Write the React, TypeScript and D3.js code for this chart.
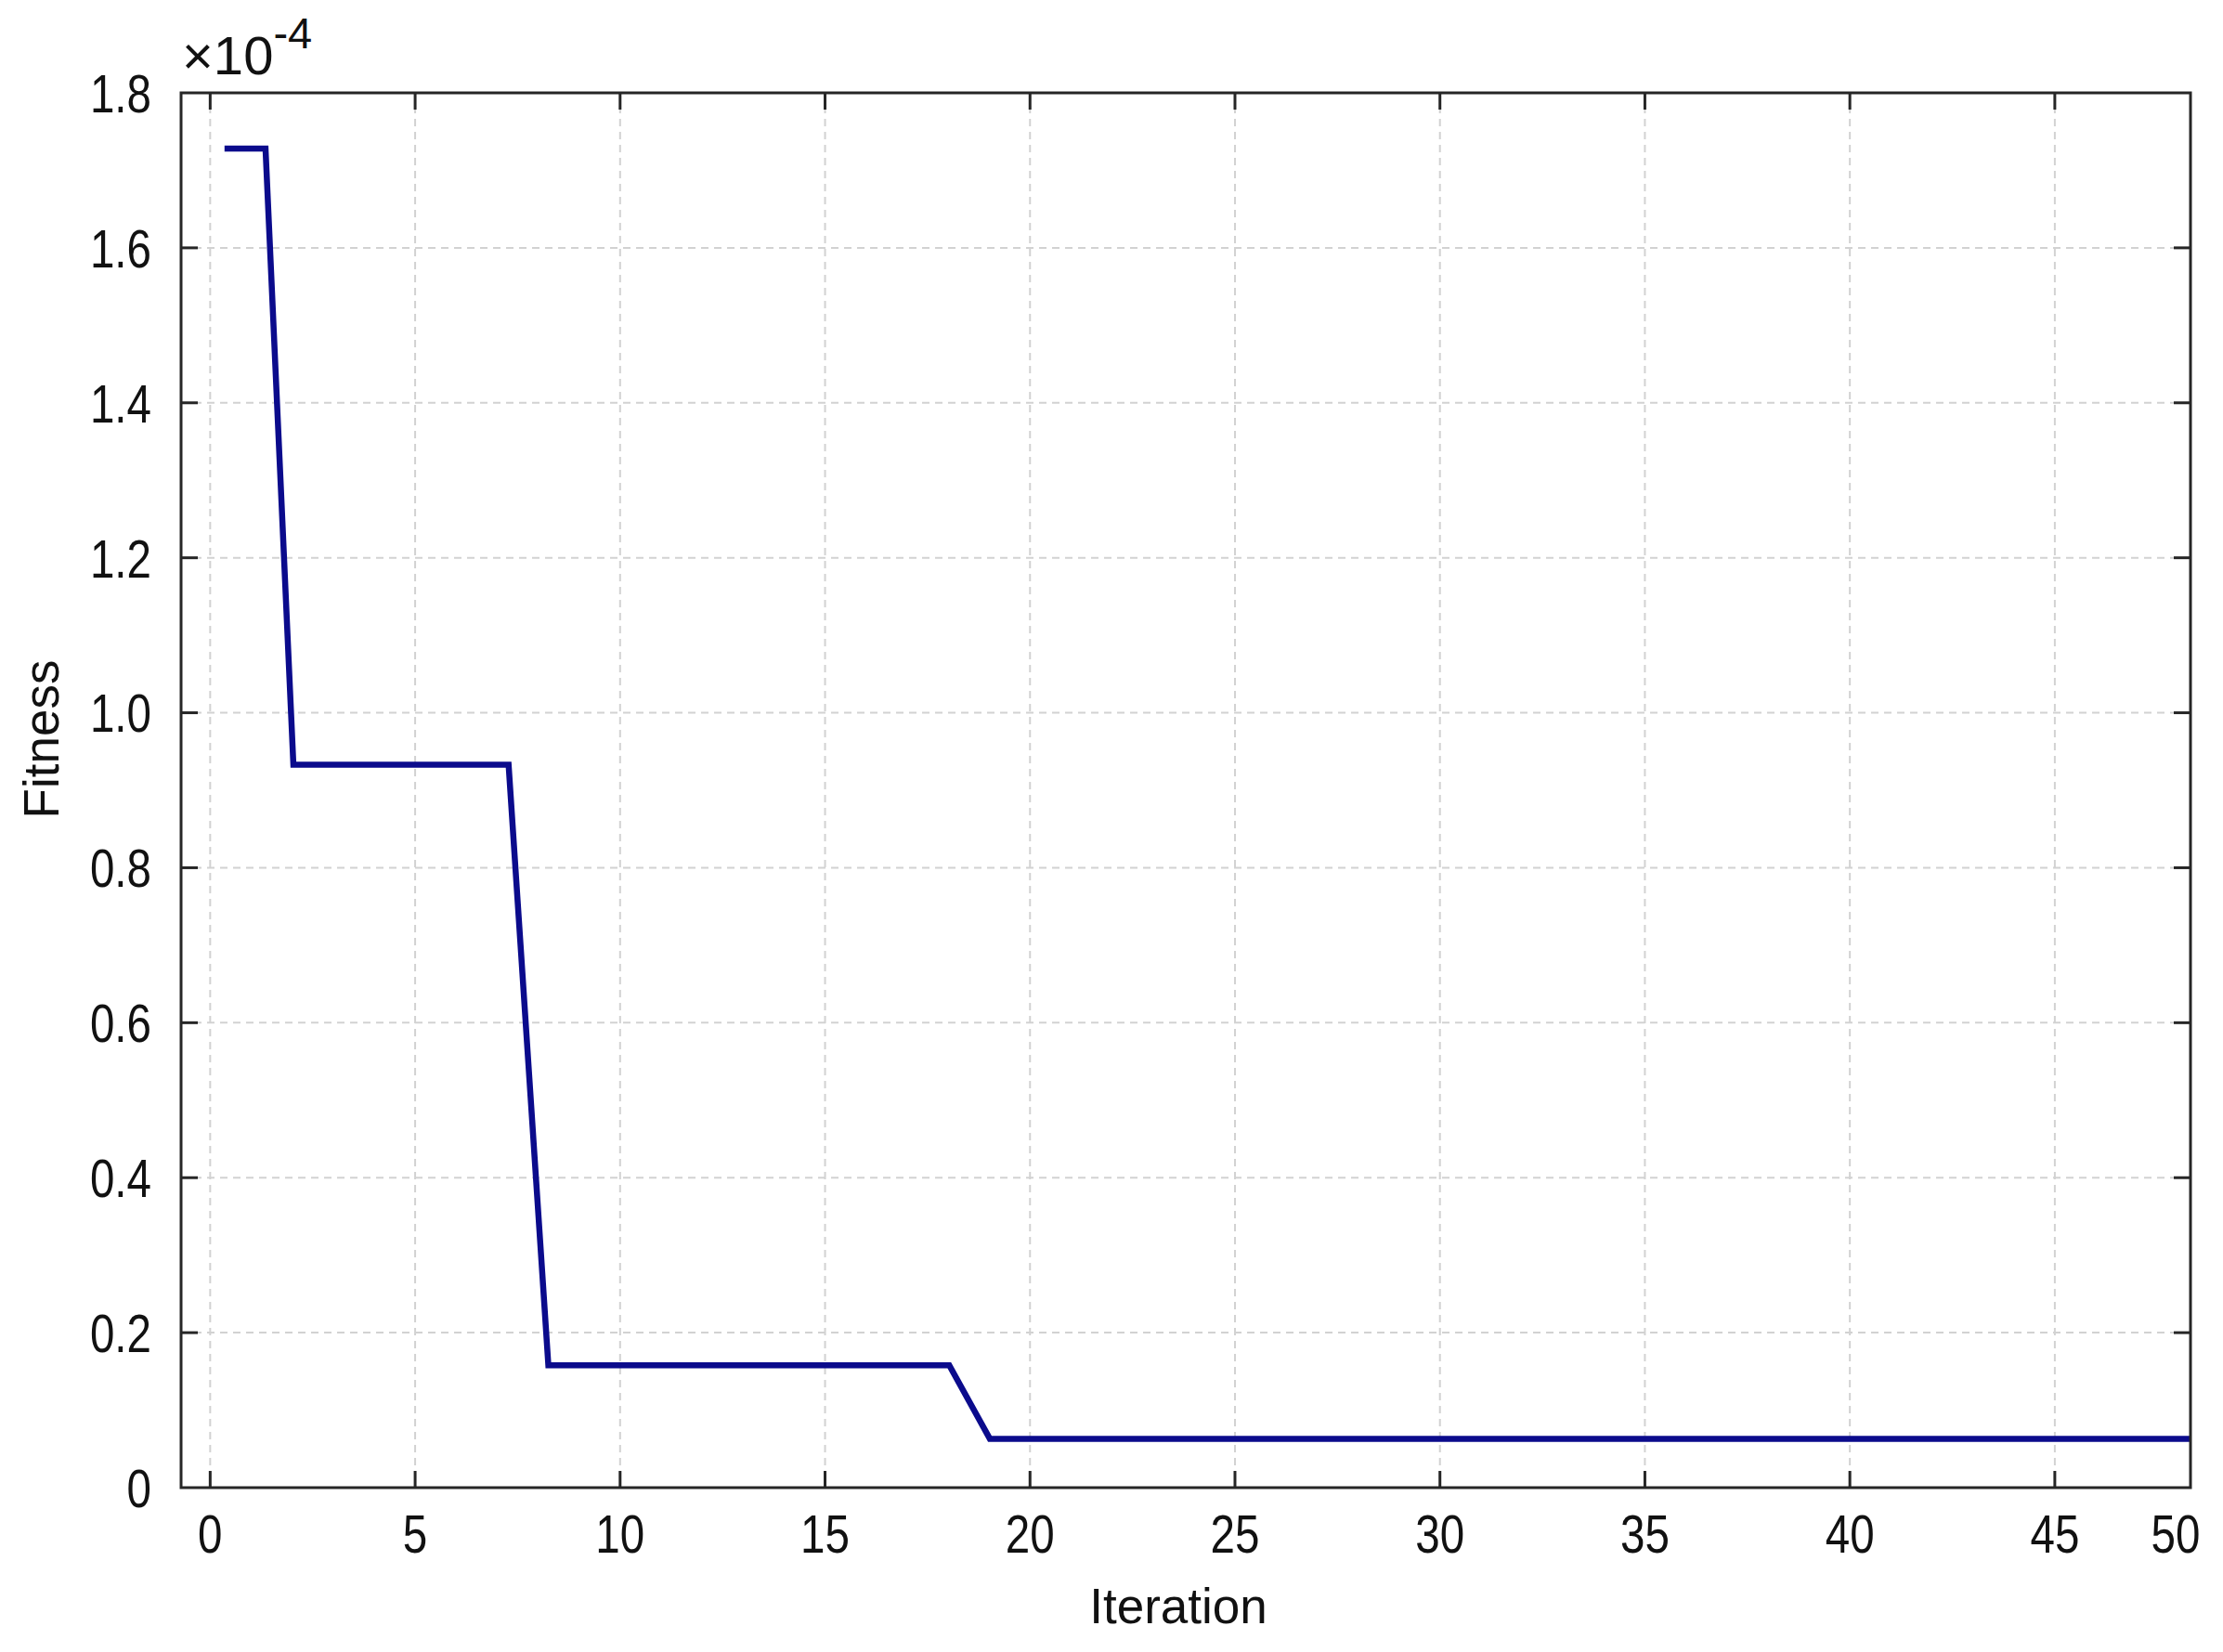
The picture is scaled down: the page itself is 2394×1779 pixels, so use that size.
import React from 'react';
import * as d3 from 'd3';

const WIDTH = 2394;
const HEIGHT = 1779;

// plot box in page pixels
const box = { left: 195, top: 100, right: 2359, bottom: 1602 };

// values
const ITERATIONS = [0.35, 1.35, 2.03, 7.28, 8.25, 18.03, 19.02, 48.31];
const FITNESS = [1.728e-4, 1.728e-4, 0.933e-4, 0.933e-4, 0.158e-4, 0.158e-4, 0.063e-4, 0.063e-4];

const X_DOMAIN = [-0.71, 48.31];
const X_TICKS = [0, 5, 10, 15, 20, 25, 30, 35, 40, 45];
const X_END_LABEL = '50';

const Y_DOMAIN = [0, 1.8e-4];
const Y_TICKS = [0, 0.2e-4, 0.4e-4, 0.6e-4, 0.8e-4, 1.0e-4, 1.2e-4, 1.4e-4, 1.6e-4, 1.8e-4];
const Y_TICK_LABELS = ['0', '0.2', '0.4', '0.6', '0.8', '1.0', '1.2', '1.4', '1.6', '1.8'];

const AXIS_COLOR = '#262626';
const GRID_COLOR = '#d2d2d2';
const LINE_COLOR = '#0b0b8c';
const FONT = '"Liberation Sans", Arial, sans-serif';
const NARROW = 0.82;
const TICK_LEN = 18;

export default function App() {
  const x = d3.scaleLinear().domain(X_DOMAIN).range([box.left, box.right]);
  const y = d3.scaleLinear().domain(Y_DOMAIN).range([box.bottom, box.top]);

  const line = d3
    .line<number>()
    .x((_d, i) => x(ITERATIONS[i]))
    .y((d) => y(d));

  const innerY = Y_TICKS.filter((t) => t > Y_DOMAIN[0] && t < Y_DOMAIN[1]);

  return (
    <svg
      width={WIDTH}
      height={HEIGHT}
      style={{ position: 'absolute', left: 0, top: 0, background: '#fff' }}
      fontFamily={FONT}
    >
      <rect x={0} y={0} width={WIDTH} height={HEIGHT} fill="#fff" />

      {/* grid */}
      <g stroke={GRID_COLOR} strokeWidth={2} strokeDasharray="8,6">
        {X_TICKS.map((t) => (
          <line key={'gx' + t} x1={x(t)} x2={x(t)} y1={box.top} y2={box.bottom} />
        ))}
        {innerY.map((t) => (
          <line key={'gy' + t} x1={box.left} x2={box.right} y1={y(t)} y2={y(t)} />
        ))}
      </g>

      {/* data */}
      <path
        d={line(FITNESS) || ''}
        fill="none"
        stroke={LINE_COLOR}
        strokeWidth={6.5}
        strokeLinejoin="miter"
      />

      {/* frame + ticks */}
      <g stroke={AXIS_COLOR} strokeWidth={3}>
        <rect
          x={box.left}
          y={box.top}
          width={box.right - box.left}
          height={box.bottom - box.top}
          fill="none"
        />
        {X_TICKS.map((t) => (
          <g key={'tx' + t}>
            <line x1={x(t)} x2={x(t)} y1={box.bottom} y2={box.bottom - TICK_LEN} />
            <line x1={x(t)} x2={x(t)} y1={box.top} y2={box.top + TICK_LEN} />
          </g>
        ))}
        {innerY.map((t) => (
          <g key={'ty' + t}>
            <line x1={box.left} x2={box.left + TICK_LEN} y1={y(t)} y2={y(t)} />
            <line x1={box.right} x2={box.right - TICK_LEN} y1={y(t)} y2={y(t)} />
          </g>
        ))}
      </g>

      {/* x tick labels */}
      <g fontSize={58} fill="#111" textAnchor="middle">
        {X_TICKS.map((t) => (
          <text key={'lx' + t} transform={`translate(${x(t)},1672) scale(${NARROW},1)`}>
            {t}
          </text>
        ))}
        <text transform={`translate(${x(X_DOMAIN[1]) - 16},1672) scale(${NARROW},1)`}>
          {X_END_LABEL}
        </text>
      </g>

      {/* y tick labels */}
      <g fontSize={58} fill="#111" textAnchor="end">
        {Y_TICKS.map((t, i) => (
          <text
            key={'ly' + i}
            transform={`translate(163,${y(t)}) scale(${NARROW},1)`}
            dy="0.36em"
          >
            {Y_TICK_LABELS[i]}
          </text>
        ))}
      </g>

      {/* exponent */}
      <text x={196} y={80} fontSize={58} fill="#111">
        ×10
        <tspan dy={-28} fontSize={47}>
          -4
        </tspan>
      </text>

      {/* axis titles */}
      <text x={(box.left + box.right) / 2 - 8} y={1748} fontSize={53} textAnchor="middle" fill="#111">
        Iteration
      </text>
      <text
        transform="translate(63,796) rotate(-90)"
        fontSize={53}
        textAnchor="middle"
        fill="#111"
      >
        Fitness
      </text>
    </svg>
  );
}
